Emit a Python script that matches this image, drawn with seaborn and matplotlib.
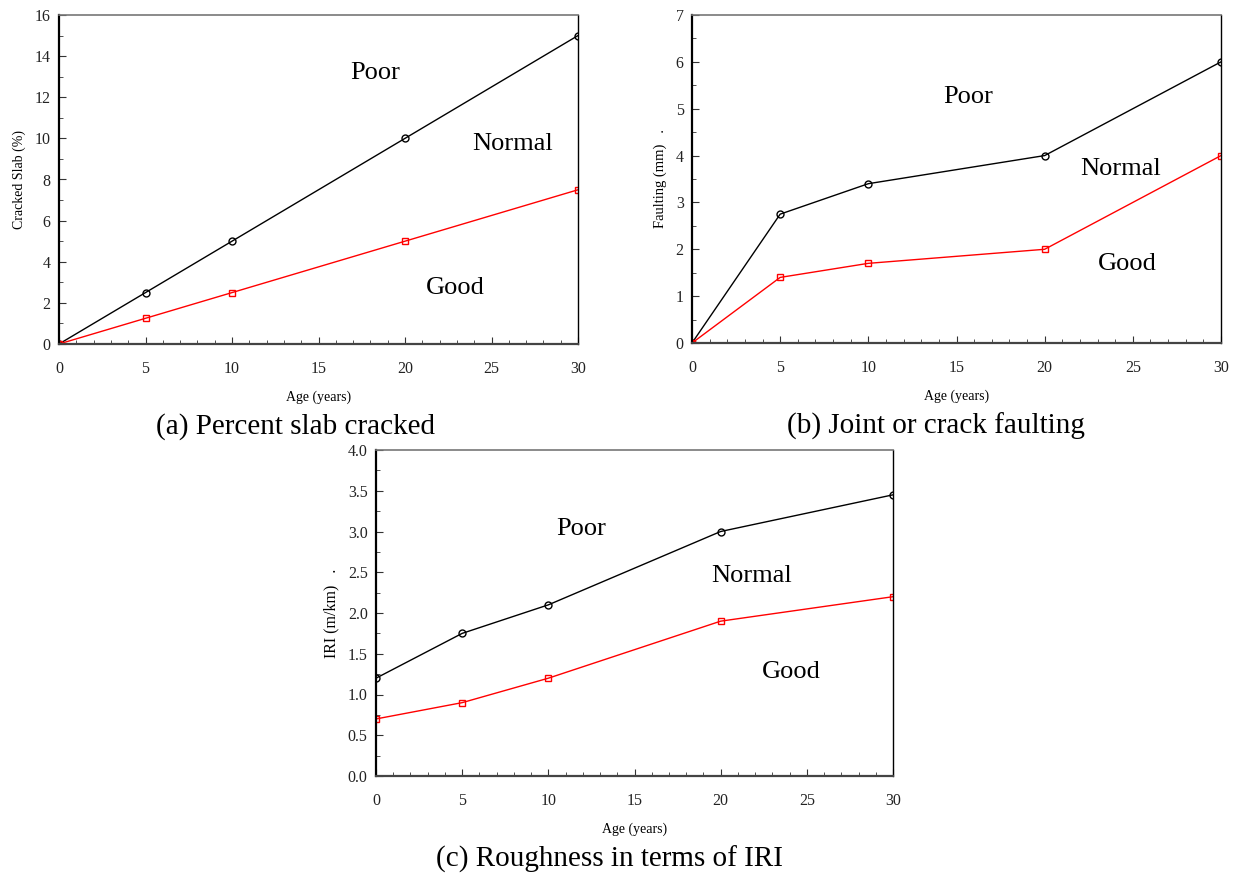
import matplotlib
matplotlib.use('Agg')
import matplotlib.pyplot as plt
import pandas as pd
import seaborn as sns
from matplotlib.ticker import MultipleLocator

sns.set_style('ticks')
plt.rcParams['font.family'] = ['Liberation Serif', 'DejaVu Serif']
plt.rcParams['text.color'] = 'black'
plt.rcParams['axes.labelcolor'] = 'black'

ages = [0, 5, 10, 20, 30]

slab_poor = [0, 2.5, 5, 10, 15]
slab_good = [0, 1.25, 2.5, 5, 7.5]

fault_poor = [0, 2.75, 3.4, 4, 6]
fault_good = [0, 1.4, 1.7, 2, 4]

iri_poor = [1.2, 1.75, 2.1, 3.0, 3.45]
iri_good = [0.7, 0.9, 1.2, 1.9, 2.2]

W, H = 1235, 873
fig = plt.figure(figsize=(W / 100, H / 100), dpi=100)


def px_axes(l, t, r, b):
    return fig.add_axes([l / W, 1 - b / H, (r - l) / W, (b - t) / H])


def draw(ax, poor, good, ylim, ymaj, ymin, ylabel, ylab_size, fmt, labels, caption, cap_x, cap_y):
    df = pd.DataFrame({'age': ages, 'poor': poor, 'good': good})
    sns.lineplot(data=df, x='age', y='poor', ax=ax, color='black', lw=1,
                 marker='o', markersize=5, markerfacecolor='none',
                 markeredgecolor='black', markeredgewidth=1)
    sns.lineplot(data=df, x='age', y='good', ax=ax, color='red', lw=1,
                 marker='s', markersize=4, markerfacecolor='none',
                 markeredgecolor='red', markeredgewidth=1)
    ax.set_xlim(0, 30)
    ax.set_ylim(*ylim)
    ax.xaxis.set_major_locator(MultipleLocator(5))
    ax.xaxis.set_minor_locator(MultipleLocator(1))
    ax.yaxis.set_major_locator(MultipleLocator(ymaj))
    ax.yaxis.set_minor_locator(MultipleLocator(ymin))
    ax.yaxis.set_major_formatter(fmt)
    ax.tick_params(which='both', direction='in', top=False, right=False)
    ax.tick_params(which='major', length=5, labelsize=11.5, pad=6, colors='#333333', labelcolor='#222222')
    ax.tick_params(which='minor', length=3, colors='#333333')
    ax.tick_params(axis='x', pad=12)
    for s in ['left', 'bottom']:
        ax.spines[s].set_linewidth(1.6)
    ax.spines['left'].set_color('black')
    ax.spines['bottom'].set_color('#444444')
    ax.spines['top'].set_color('#777777')
    ax.spines['right'].set_color('black')
    ax.spines['top'].set_linewidth(1.2)
    ax.spines['right'].set_linewidth(1.0)
    ax.set_xlabel('Age (years)', fontsize=10, labelpad=10)
    ax.set_ylabel(ylabel, fontsize=ylab_size, labelpad=6)
    for txt, x, y in labels:
        ax.text(x, y, txt, fontsize=19, ha='center', va='center')
    fig.text(cap_x / W, 1 - cap_y / H, caption, fontsize=21, ha='center', va='center')


ax1 = px_axes(59, 15, 578, 344)
draw(ax1, slab_poor, slab_good, (0, 16), 2, 1, 'Cracked Slab (%)', 10, '{x:g}',
     [('Poor', 18.3, 13.2), ('Normal', 26.2, 9.73), ('Good', 22.9, 2.72)],
     '(a) Percent slab cracked', 296, 427)

ax2 = px_axes(692, 15, 1221, 343)
draw(ax2, fault_poor, fault_good, (0, 7), 1, 0.5, 'Faulting (mm)   .', 10.5, '{x:g}',
     [('Poor', 15.65, 5.25), ('Normal', 24.3, 3.71), ('Good', 24.7, 1.69)],
     '(b) Joint or crack faulting', 936, 426)

ax3 = px_axes(376, 450, 893, 776)
draw(ax3, iri_poor, iri_good, (0, 4), 0.5, 0.25, 'IRI (m/km)   .', 11.5, '{x:.1f}',
     [('Poor', 11.9, 3.03), ('Normal', 21.8, 2.45), ('Good', 24.1, 1.28)],
     '(c) Roughness in terms of IRI', 609, 859)

fig.savefig('out.png', dpi=100)
